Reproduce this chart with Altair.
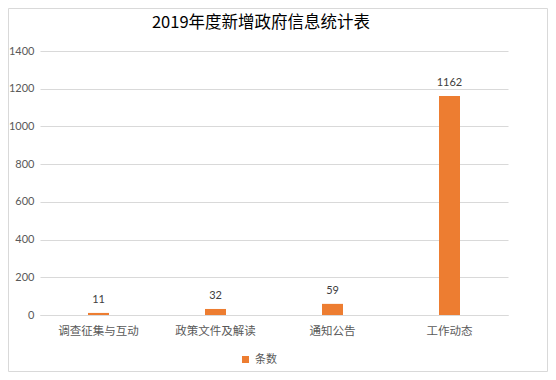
import altair as alt
import pandas as pd

title_text = "2019年度新增政府信息统计表"
categories = ["调查征集与互动", "政策文件及解读", "通知公告", "工作动态"]
counts = [11, 32, 59, 1162]
series_name = "条数"
y_ticks = [0, 200, 400, 600, 800, 1000, 1200, 1400]

df = pd.DataFrame({"类别": categories, "条数": counts, "系列": [series_name] * len(categories)})
one = pd.DataFrame({"t": [title_text]})

base = alt.Chart(df).encode(
    x=alt.X("类别:N", sort=categories, title=None,
            scale=alt.Scale(paddingInner=0, paddingOuter=0),
            axis=alt.Axis(labelAngle=0, ticks=False, grid=False, domainColor="#d9d9d9",
                          labelColor="#595959", labelFontSize=11.5,
                          labelFont="Noto Sans CJK SC", labelPadding=10)),
    y=alt.Y("条数:Q", title=None,
            scale=alt.Scale(domain=[0, 1400]),
            axis=alt.Axis(values=y_ticks, format="d", ticks=False, domain=False,
                          gridColor="#d9d9d9", labelColor="#595959",
                          labelFont="Lato", labelFontSize=11, labelPadding=6)),
)

bars = base.mark_bar(size=21).encode(
    color=alt.Color("系列:N", scale=alt.Scale(range=["#ED7D31"]),
                    legend=alt.Legend(title=None, orient="none", legendX=200, legendY=303,
                                      symbolType="square", symbolSize=49,
                                      labelFont="Noto Sans CJK SC", labelFontSize=11,
                                      labelColor="#595959"))
)

labels = base.mark_text(baseline="alphabetic", dy=-10, font="Lato", fontSize=11, color="#404040").encode(
    text="条数:Q"
)

frame = alt.Chart(one).mark_rect(fill="transparent", stroke="#d9d9d9", strokeWidth=1).encode(
    x=alt.value(-31.5), x2=alt.value(507.5), y=alt.value(-42.5), y2=alt.value(320.5)
)

title = alt.Chart(one).mark_text(baseline="alphabetic", align="center", font="Noto Sans CJK SC",
                                 fontSize=16.5, color="#000000").encode(
    text="t:N", x=alt.value(221), y=alt.value(-23)
)

chart = alt.layer(frame, bars, labels, title).properties(
    width=468, height=264,
    autosize=alt.AutoSizeParams(type="none"),
    padding={"left": 32, "top": 43, "right": 40, "bottom": 57},
    view=alt.ViewBackground(stroke="transparent", strokeWidth=0),
).configure_view(stroke="transparent", strokeWidth=0).configure(background="white")

chart.save("out.html", embed_options={"renderer": "svg", "actions": False})
